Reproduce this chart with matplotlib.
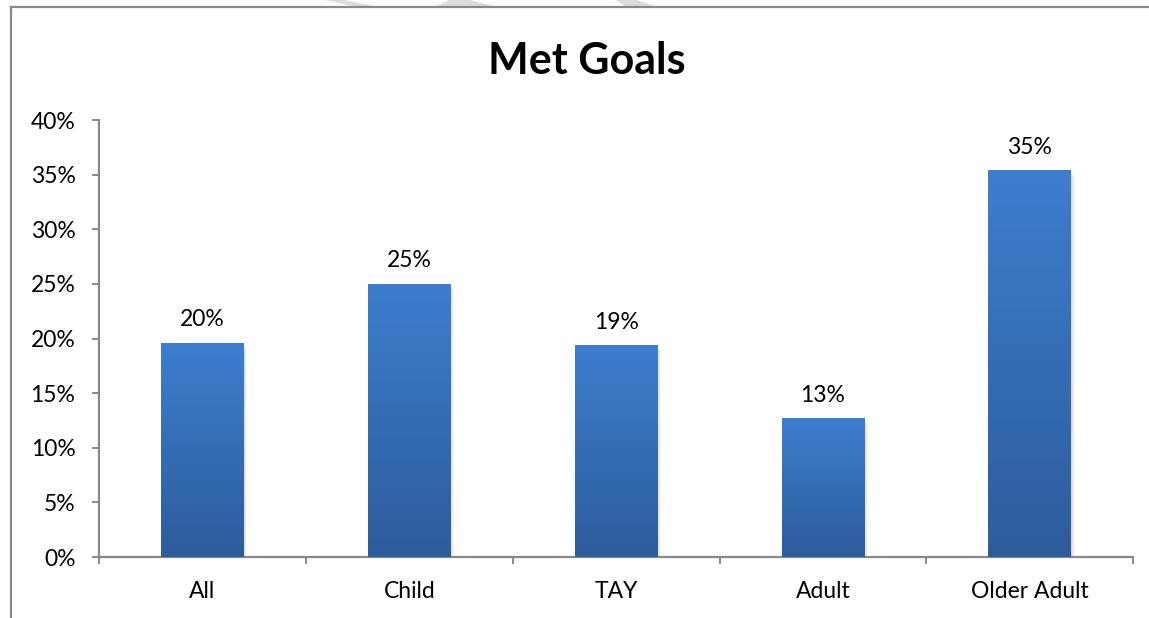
import numpy as np
import matplotlib.pyplot as plt
from matplotlib.colors import LinearSegmentedColormap
from matplotlib.patches import Rectangle, Polygon
from matplotlib.lines import Line2D
from matplotlib.ticker import PercentFormatter

groups = ['All', 'Child', 'TAY', 'Adult', 'Older Adult']
met_goals = [0.196, 0.250, 0.194, 0.127, 0.354]

plt.rcParams['font.family'] = ['Lato', 'DejaVu Sans']
fs = 16.5

fig = plt.figure(figsize=(11.49, 6.18), dpi=100)
ax = fig.add_axes([0.0862, 0.0987, 0.9, 0.7071])

x = np.arange(len(groups))
bars = ax.bar(x, met_goals, width=0.4, color='none', zorder=3)

# blue gradient fill, lighter at the top
cmap = LinearSegmentedColormap.from_list('bar', ['#2d5c9b', '#3d7ecf'])
grad = np.linspace(0, 1, 256).reshape(-1, 1)
for b in bars:
    x0, w, h = b.get_x(), b.get_width(), b.get_height()
    # soft shadow
    for k in range(1, 5):
        ax.add_patch(Rectangle((x0 + k * 0.004, -0.0012 * k), w, h,
                               color='black', alpha=0.035, lw=0, zorder=2))
    im = ax.imshow(grad, extent=[x0, x0 + w, 0, h], origin='lower',
                   aspect='auto', cmap=cmap, zorder=4)
    im.set_clip_path(b)

for b, v in zip(bars, met_goals):
    ax.annotate(f'{v:.0%}', (b.get_x() + b.get_width() / 2, v),
                xytext=(0, 9), textcoords='offset points',
                ha='center', va='bottom', fontsize=fs)

ax.set_xlim(-0.5, len(groups) - 0.5)
ax.set_ylim(0, 0.40)
ax.set_yticks(np.arange(0, 0.41, 0.05))
ax.yaxis.set_major_formatter(PercentFormatter(1.0, decimals=0))

ax.set_xticks(np.arange(-0.5, len(groups), 1.0))
ax.set_xticklabels([])
ax.set_xticks(x, minor=True)
ax.set_xticklabels(groups, minor=True)

axis_grey = '#898989'
for side in ['top', 'right']:
    ax.spines[side].set_visible(False)
for side in ['left', 'bottom']:
    ax.spines[side].set_color(axis_grey)
    ax.spines[side].set_linewidth(1.6)
ax.tick_params(axis='y', length=5, width=1.4, color=axis_grey, pad=12, labelsize=fs)
ax.tick_params(axis='x', which='major', length=5, width=1.4, color=axis_grey)
ax.tick_params(axis='x', which='minor', length=0, pad=17, labelsize=fs)

fig.text(0.511, 0.902, 'Met Goals', ha='center', va='center',
         fontsize=31, fontweight='bold')

# faint watermark fragments along the top edge
wm = '#dcdcdc'
W, H = 1149, 618
for pts in [[(325, 618), (345, 618), (377, 611), (357, 611)],
            [(449, 618), (470, 618), (497, 611), (435, 611)],
            [(615, 618), (637, 618), (657, 611), (627, 611)]]:
    fig.add_artist(Polygon([(px / W, py / H) for px, py in pts],
                           closed=True, transform=fig.transFigure,
                           color=wm, lw=0, zorder=0))

# chart frame
fig.add_artist(Line2D([11 / W, 1.0], [1 - 7 / H, 1 - 7 / H],
                      color=axis_grey, lw=1.6, transform=fig.transFigure))
fig.add_artist(Line2D([11 / W, 11 / W], [0, 1 - 7 / H],
                      color=axis_grey, lw=1.6, transform=fig.transFigure))

fig.savefig('out.png', dpi=100)
